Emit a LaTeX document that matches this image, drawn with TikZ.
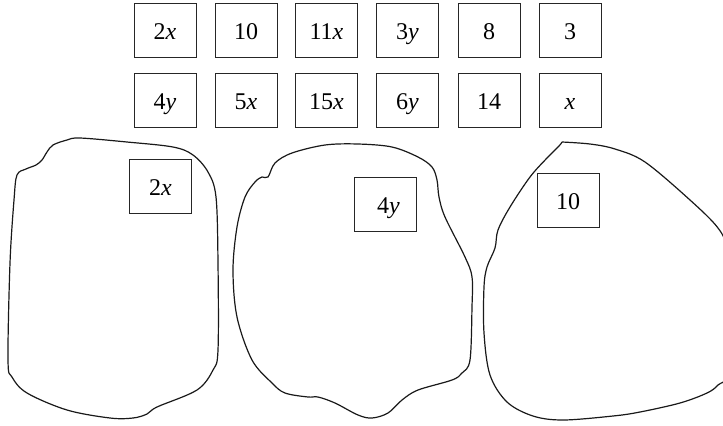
\documentclass[tikz,border=0pt]{standalone}
\usepackage{fontspec}
\setmainfont{Liberation Serif}
\begin{document}
\begin{tikzpicture}[x=0.5pt,y=-0.5pt,
  card/.style={draw=black!85, line width=0.5pt, minimum width=31pt, minimum height=27pt, inner sep=0pt, text height=10pt, text depth=1pt, font=\fontsize{12}{14}\selectfont},
  blob/.style={line width=0.6pt, black!90}]
\useasboundingbox (0,0) rectangle (723,425);
\clip (0,0) rectangle (723,425);
% top rows
\node[card] (t1) at (165,30) {2\textit{x}};
\node[card] (t2) at (246,30) {10};
\node[card] (t3) at (326.5,30) {11\textit{x}};
\node[card] (t4) at (407.5,30) {3\textit{y}};
\node[card] (t5) at (489,30) {8};
\node[card] (t6) at (570,30) {3};
\node[card] (b1) at (165,100) {4\textit{y}};
\node[card] (b2) at (246,100) {5\textit{x}};
\node[card] (b3) at (326.5,100) {15\textit{x}};
\node[card] (b4) at (407.5,100) {6\textit{y}};
\node[card] (b5) at (489,100) {14};
\node[card] (b6) at (570,100) {\textit{x}};
% blob 1
\draw[blob] plot[smooth cycle, tension=0.55] coordinates {
 (17,175) (26,169) (36,165) (42,160) (47,152) (53,145) (67,140) (80,138)
 (127,142) (173,147) (193,155) (208,172) (216,197) (218,263) (218,350)
 (213,370) (197,390) (157,407) (147,414) (133,418) (110,418) (67,410)
 (27,393) (12,377) (8,360) (10,263) (14,200)};
% blob 2
\draw[blob] plot[smooth cycle, tension=0.55] coordinates {
 (268,177) (275,163) (292,153) (325,145) (358,144) (392,147) (418,157)
 (432,167) (437,180) (439,197) (445,217) (465,257) (472,277) (472,307)
 (470,360) (462,373) (452,380) (418,390) (402,400) (388,413) (372,418)
 (358,415) (335,403) (318,397) (308,397) (285,393) (272,383) (252,360)
 (237,317) (233,270) (237,227) (245,197) (255,182) (262,177)};
% blob 3
\draw[blob] plot[smooth, tension=0.55] coordinates {
 (562,142) (590,144) (615,149) (645,162) (690,200) (718,228) (727,250)
 (728,300) (727,372) (718,385) (707,393) (680,403) (640,412) (613,416)
 (563,420) (533,416) (507,402) (490,375) (484,333) (484,287) (487,267)
 (495,248) (498,230) (510,207) (530,177) (547,158) (559,146) (562,142)};
% boxes inside blobs
\node[card] (g1) at (160.5,186.5) {2\textit{x}};
\node[card] (g2) at (385.5,204.5) {\hspace{3pt}4\textit{y}};
\node[card] (g3) at (568,200) {10};
\end{tikzpicture}
\end{document}
